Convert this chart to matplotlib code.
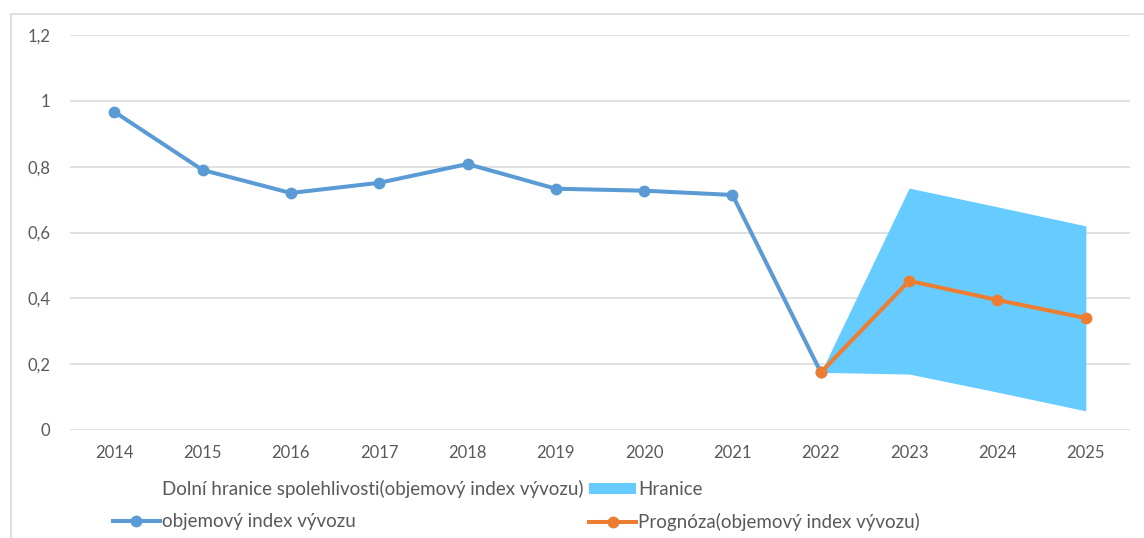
import numpy as np
import matplotlib
matplotlib.use("Agg")
import matplotlib.pyplot as plt
from matplotlib.lines import Line2D
from matplotlib.patches import Patch, Rectangle

# data
years = ["2014", "2015", "2016", "2017", "2018", "2019", "2020",
         "2021", "2022", "2023", "2024", "2025"]
export_index = [0.967, 0.79, 0.72, 0.751, 0.808, 0.733, 0.727, 0.714, 0.175]
forecast_years = ["2022", "2023", "2024", "2025"]
forecast = [0.175, 0.453, 0.395, 0.34]
lower_bound = [0.175, 0.17, 0.115, 0.058]
upper_bound = [0.175, 0.735, 0.678, 0.62]
y_ticks = [0, 0.2, 0.4, 0.6, 0.8, 1.0, 1.2]
y_labels = ["0", "0,2", "0,4", "0,6", "0,8", "1", "1,2"]

BLUE = "#5B9BD5"
ORANGE = "#ED7D31"
BAND = "#66CCFF"
GRID = "#D9D9D9"
TEXT = "#595959"

plt.rcParams['font.family'] = ['Lato', 'DejaVu Sans']

W, H = 1144, 538
fig = plt.figure(figsize=(W / 100, H / 100), dpi=100)
fig.patch.set_facecolor("white")

# light frame of the chart area (top and left edges visible)
fig.add_artist(Rectangle((11 / W, -0.05), 1.2, 1 - 14 / H + 0.05,
                         transform=fig.transFigure, fill=False,
                         edgecolor=GRID, linewidth=1.2))

ax = fig.add_axes([70 / W, (H - 430) / H, (1130 - 70) / W, (430 - 35) / H])

x = np.arange(len(years))
xf = np.array([years.index(y) for y in forecast_years])

ax.fill_between(xf, lower_bound, upper_bound, color=BAND, linewidth=0, zorder=2)
ax.plot(x[:len(export_index)], export_index, color=BLUE, lw=2.9,
        marker="o", ms=7.5, zorder=3)
ax.plot(xf, forecast, color=ORANGE, lw=2.9, marker="o", ms=7.5, zorder=4)

ax.set_xlim(-0.5, len(years) - 0.5)
ax.set_ylim(0, 1.2)
ax.set_xticks(x)
ax.set_xticklabels(years)
ax.set_yticks(y_ticks)
ax.set_yticklabels(y_labels)
ax.tick_params(length=0, labelsize=12, labelcolor=TEXT)
ax.tick_params(axis="y", pad=14)
ax.tick_params(axis="x", pad=11)
for lbl in ax.get_yticklabels():
    lbl.set_horizontalalignment("right")

ax.grid(axis="y", color=GRID, lw=1.1)
ax.set_axisbelow(True)
for s in ax.spines.values():
    s.set_visible(False)

handles = [
    Line2D([], [], color="none"),
    Line2D([], [], color=BLUE, lw=2.9, marker="o", ms=7.5),
    Patch(facecolor=BAND, edgecolor="none"),
    Line2D([], [], color=ORANGE, lw=2.9, marker="o", ms=7.5),
]
labels = [
    "Dolní hranice spolehlivosti(objemový index vývozu)",
    "objemový index vývozu",
    "Hranice",
    "Prognóza(objemový index vývozu)",
]
leg = fig.legend(handles, labels, ncol=2, loc="upper left",
                 bbox_to_anchor=(113 / W, 1 - 480 / H), frameon=False,
                 fontsize=13.5, labelcolor=TEXT, handlelength=2.5,
                 handletextpad=0.12, columnspacing=0.3, labelspacing=0.8,
                 borderpad=0, borderaxespad=0, handleheight=0.5)

fig.savefig("out.png", dpi=100)
